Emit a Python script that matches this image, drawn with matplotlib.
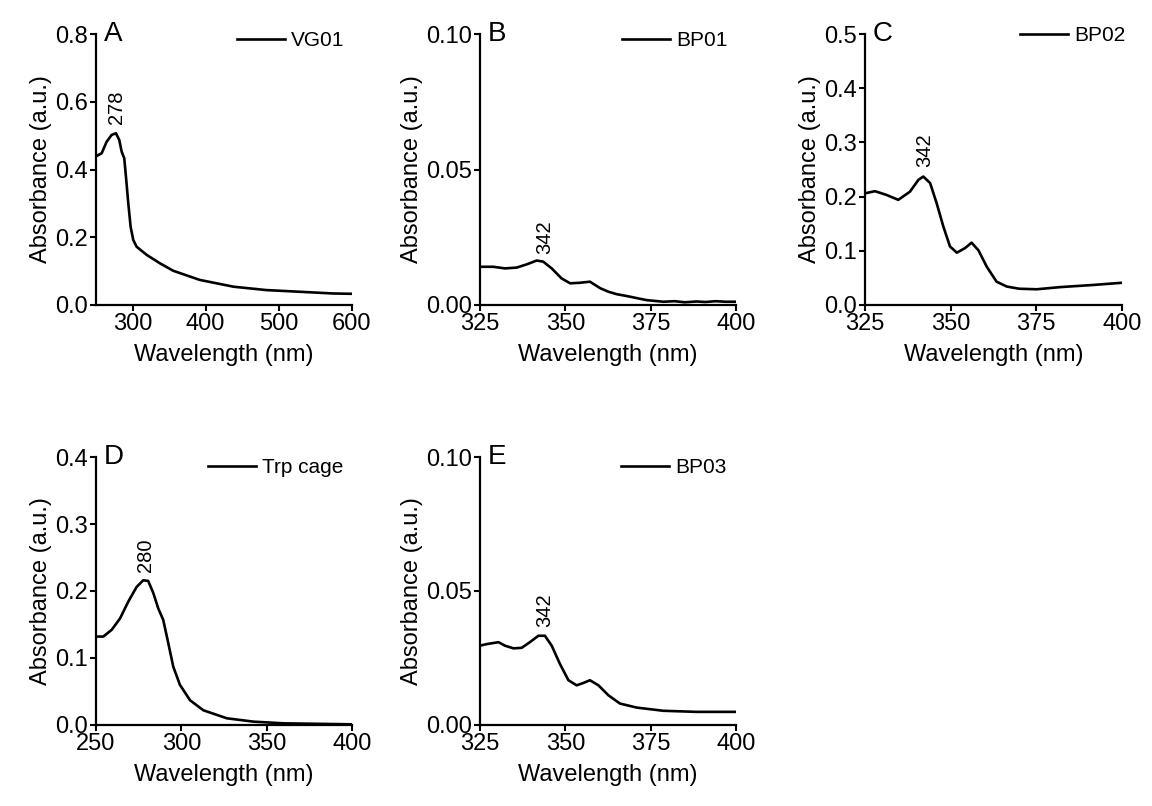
import numpy as np
import matplotlib
matplotlib.use('Agg')
import matplotlib.pyplot as plt
from matplotlib.ticker import FormatStrFormatter

plt.rcParams['font.family'] = ['Liberation Sans', 'DejaVu Sans']

# Data
A_WL = [250, 251, 257.8, 264.6, 271.4, 277.3, 281.9, 285.1, 288.7, 291, 294.2, 297.4,
        301, 305.6, 319.3, 337.5, 355.7, 392, 438, 483, 529, 574, 600]
A_ABS = [0.44, 0.440, 0.448, 0.482, 0.502, 0.507, 0.487, 0.453, 0.433, 0.379, 0.300,
         0.231, 0.192, 0.172, 0.148, 0.123, 0.101, 0.074, 0.054, 0.044, 0.039, 0.034,
         0.033]

B_WL = [325, 328.9, 332.3, 335.7, 338.7, 341.6, 343.5, 346, 348.9, 351.4, 354.3, 357.2,
        360.2, 362.6, 365, 368, 373.8, 378.7, 382, 385, 388.5, 391, 394, 397, 399.7]
B_ABS = [0.0141, 0.0141, 0.0135, 0.0138, 0.0150, 0.0164, 0.0160, 0.0135, 0.0098,
         0.0080, 0.0082, 0.0086, 0.0062, 0.0049, 0.0040, 0.0033, 0.0018, 0.0012,
         0.0014, 0.0010, 0.0013, 0.0011, 0.0014, 0.0012, 0.0012]

C_WL = [325, 327.9, 331.3, 334.7, 338.1, 340.6, 342, 344, 345.9, 347.9, 349.8, 351.8,
        354.2, 356.1, 358.1, 360.5, 363.4, 366.4, 370, 375.1, 382, 391.7, 400]
C_ABS = [0.206, 0.210, 0.203, 0.194, 0.209, 0.231, 0.237, 0.225, 0.188, 0.144, 0.108,
         0.0965, 0.105, 0.115, 0.101, 0.071, 0.043, 0.034, 0.030, 0.029, 0.033, 0.037,
         0.041]

D_WL = [250, 254.3, 259.2, 264.1, 268.9, 273.8, 277.7, 280.6, 283.6, 286.5, 289.4,
        292.4, 295.3, 299.2, 305.1, 312.9, 326.7, 342.3, 359.9, 400]
D_ABS = [0.132, 0.132, 0.142, 0.159, 0.184, 0.206, 0.216, 0.215, 0.197, 0.174, 0.157,
         0.122, 0.087, 0.060, 0.037, 0.022, 0.010, 0.005, 0.0025, 0.001]

E_WL = [325, 327, 330.4, 332.3, 334.8, 337.2, 339.6, 342.1, 344, 346, 348.4, 350.9,
        353.3, 355.3, 357.2, 359.7, 362.6, 366, 370.9, 378.7, 388.5, 400]
E_ABS = [0.0296, 0.0302, 0.0309, 0.0296, 0.0286, 0.0288, 0.0309, 0.0333, 0.0333, 0.0296,
         0.0228, 0.0167, 0.0148, 0.0157, 0.0167, 0.0148, 0.0111, 0.0080, 0.0065, 0.0053,
         0.0049, 0.0049]

PANELS = [
    # letter, x, y, label, xlim, xticks, ylim, yticks, yfmt, peak label, peak pos, rect, legend anchor
    ('A', A_WL, A_ABS, 'VG01', (250, 600), [300, 400, 500, 600], (0, 0.8),
     [0, 0.2, 0.4, 0.6, 0.8], '%.1f', '278', (278, 0.535),
     [0.0833, 0.6216, 0.2222, 0.3362], (0.972, 1.01)),
    ('B', B_WL, B_ABS, 'BP01', (325, 400), [325, 350, 375, 400], (0, 0.10),
     [0, 0.05, 0.10], '%.2f', '342', (344, 0.019),
     [0.4167, 0.6216, 0.2222, 0.3362], (0.968, 1.01)),
    ('C', C_WL, C_ABS, 'BP02', (325, 400), [325, 350, 375, 400], (0, 0.5),
     [0, 0.1, 0.2, 0.3, 0.4, 0.5], '%.1f', '342', (342.5, 0.255),
     [0.7509, 0.6216, 0.2230, 0.3362], (1.012, 1.03)),
    ('D', D_WL, D_ABS, 'Trp cage', (250, 400), [250, 300, 350, 400], (0, 0.4),
     [0, 0.1, 0.2, 0.3, 0.4], '%.1f', '280', (279, 0.228),
     [0.0833, 0.1005, 0.2222, 0.3325], (0.968, 0.995)),
    ('E', E_WL, E_ABS, 'BP03', (325, 400), [325, 350, 375, 400], (0, 0.10),
     [0, 0.05, 0.10], '%.2f', '342', (344, 0.0364),
     [0.4167, 0.1005, 0.2222, 0.3325], (0.962, 0.995)),
]

TICK_FS = 17
LABEL_FS = 17
LEGEND_FS = 15
PEAK_FS = 14.5
LETTER_FS = 20

fig = plt.figure(figsize=(11.52, 8.06), dpi=100)
fig.patch.set_facecolor('white')

for letter, wl, ab, name, xlim, xticks, ylim, yticks, yfmt, peak, peak_pos, rect, leg_anchor in PANELS:
    ax = fig.add_axes(rect)
    ax.plot(wl, ab, color='black', lw=1.9, label=name, solid_joinstyle='round')
    ax.set_xlim(*xlim)
    ax.set_ylim(*ylim)
    ax.set_xticks(xticks)
    ax.set_yticks(yticks)
    ax.yaxis.set_major_formatter(FormatStrFormatter(yfmt))
    for side in ['top', 'right']:
        ax.spines[side].set_visible(False)
    for side in ['left', 'bottom']:
        ax.spines[side].set_linewidth(1.6)
    ax.tick_params(direction='out', length=4.5, width=1.5, pad=1.5, labelsize=TICK_FS)
    ax.set_xlabel('Wavelength (nm)', fontsize=LABEL_FS, labelpad=6)
    ax.set_ylabel('Absorbance (a.u.)', fontsize=LABEL_FS, labelpad=2)
    ax.text(0.03, 1.0, letter, transform=ax.transAxes, fontsize=LETTER_FS,
            va='center', ha='left')
    ax.text(peak_pos[0], peak_pos[1], peak, rotation=90, fontsize=PEAK_FS,
            ha='center', va='bottom')
    ax.legend(loc='upper right', bbox_to_anchor=leg_anchor, frameon=False,
              fontsize=LEGEND_FS, handlelength=2.3, handletextpad=0.3,
              borderpad=0, borderaxespad=0)

fig.savefig('out.png', dpi=100, facecolor='white')
